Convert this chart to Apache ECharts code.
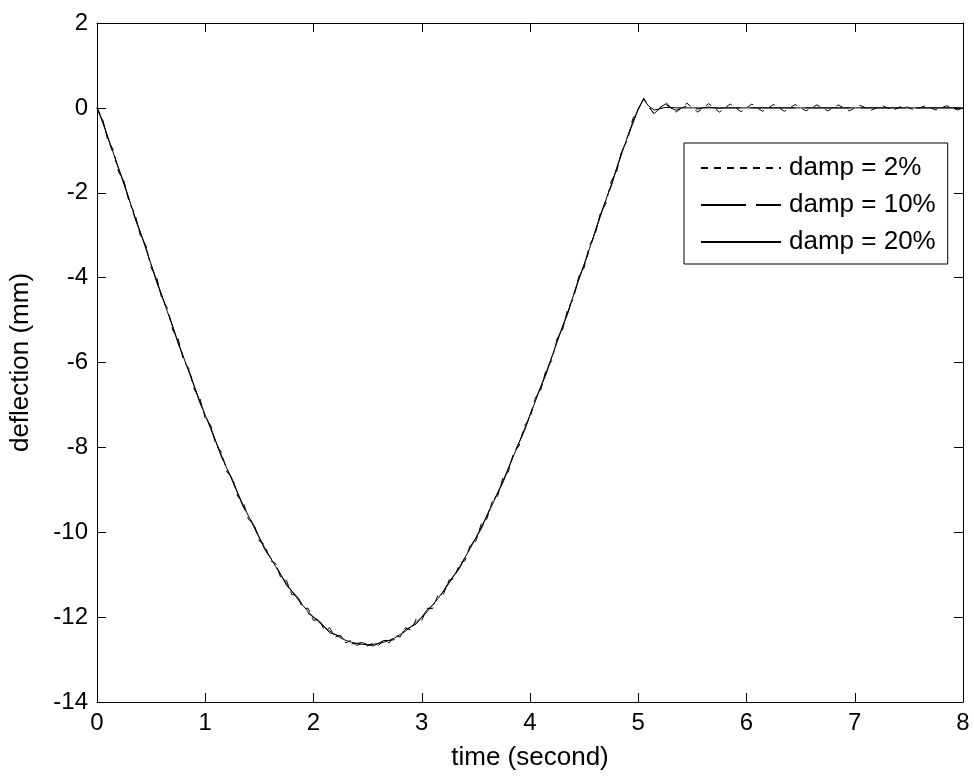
<!DOCTYPE html>
<html><head><meta charset="utf-8">
<style>html,body{margin:0;padding:0;background:#fff}#c{width:974px;height:776px}</style>
<script src="https://cdn.jsdelivr.net/npm/echarts@6/dist/echarts.min.js"></script>
</head><body><div id="c"></div>
<script>
const times = [
0,0.05,0.1,0.15,0.2,0.25,0.3,0.35,0.4,0.45,
0.5,0.55,0.6,0.65,0.7,0.75,0.8,0.85,0.9,0.95,
1,1.05,1.1,1.15,1.2,1.25,1.3,1.35,1.4,1.45,
1.5,1.55,1.6,1.65,1.7,1.75,1.8,1.85,1.9,1.95,
2,2.05,2.1,2.15,2.2,2.25,2.3,2.35,2.4,2.45,
2.5,2.55,2.6,2.65,2.7,2.75,2.8,2.85,2.9,2.95,
3,3.05,3.1,3.15,3.2,3.25,3.3,3.35,3.4,3.45,
3.5,3.55,3.6,3.65,3.7,3.75,3.8,3.85,3.9,3.95,
4,4.05,4.1,4.15,4.2,4.25,4.3,4.35,4.4,4.45,
4.5,4.55,4.6,4.65,4.7,4.75,4.8,4.85,4.9,4.95,
5,5.05,5.1,5.15,5.2,5.25,5.3,5.35,5.4,5.45,
5.5,5.55,5.6,5.65,5.7,5.75,5.8,5.85,5.9,5.95,
6,6.05,6.1,6.15,6.2,6.25,6.3,6.35,6.4,6.45,
6.5,6.55,6.6,6.65,6.7,6.75,6.8,6.85,6.9,6.95,
7,7.05,7.1,7.15,7.2,7.25,7.3,7.35,7.4,7.45,
7.5,7.55,7.6,7.65,7.7,7.75,7.8,7.85,7.9,7.95,
8];

const damp2 = [
0,-0.25,-0.77,-0.98,-1.51,-1.73,-2.26,-2.48,-3.01,-3.23,
-3.77,-3.98,-4.51,-4.72,-5.24,-5.44,-5.96,-6.15,-6.65,-6.83,
-7.32,-7.48,-7.96,-8.11,-8.58,-8.71,-9.16,-9.28,-9.70,-9.80,
-10.21,-10.29,-10.67,-10.73,-11.09,-11.13,-11.47,-11.48,-11.80,-11.79,
-12.08,-12.04,-12.31,-12.25,-12.47,-12.43,-12.61,-12.54,-12.67,-12.61,
-12.68,-12.61,-12.67,-12.54,-12.61,-12.43,-12.47,-12.25,-12.31,-12.04,
-12.08,-11.79,-11.80,-11.48,-11.47,-11.13,-11.09,-10.73,-10.67,-10.29,
-10.21,-9.80,-9.70,-9.28,-9.16,-8.71,-8.58,-8.11,-7.96,-7.48,
-7.32,-6.83,-6.65,-6.15,-5.96,-5.44,-5.24,-4.72,-4.51,-3.98,
-3.77,-3.23,-3.01,-2.48,-2.26,-1.73,-1.51,-0.98,-0.77,-0.25,
-0.04,0.23,0.02,-0.16,0.00,0.14,0.01,-0.10,0.00,0.11,
0.00,-0.10,0.00,0.10,0.00,-0.10,0.00,0.09,0.00,-0.09,
0.00,0.09,0.00,-0.08,0.00,0.08,0.00,-0.08,0.00,0.08,
0.00,-0.07,0.00,0.07,0.00,-0.07,0.00,0.07,0.00,-0.07,
0.00,0.06,0.00,-0.06,0.00,0.06,0.00,-0.06,0.00,0.06,
0.00,-0.05,0.00,0.05,0.00,-0.05,0.00,0.05,0.00,-0.05,
0.00];

const damp10 = [
0,-0.29,-0.69,-1.10,-1.43,-1.77,-2.18,-2.60,-2.93,-3.27,
-3.69,-4.10,-4.43,-4.76,-5.16,-5.56,-5.88,-6.19,-6.57,-6.95,
-7.24,-7.52,-7.88,-8.23,-8.50,-8.75,-9.08,-9.40,-9.62,-9.84,
-10.13,-10.41,-10.59,-10.77,-11.01,-11.25,-11.39,-11.52,-11.72,-11.91,
-12.00,-12.08,-12.23,-12.37,-12.41,-12.45,-12.55,-12.63,-12.62,-12.60,
-12.65,-12.68,-12.62,-12.55,-12.55,-12.53,-12.41,-12.29,-12.23,-12.16,
-12.00,-11.83,-11.72,-11.60,-11.39,-11.17,-11.01,-10.85,-10.59,-10.33,
-10.13,-9.92,-9.62,-9.32,-9.08,-8.83,-8.50,-8.15,-7.88,-7.60,
-7.24,-6.87,-6.57,-6.27,-5.88,-5.48,-5.16,-4.84,-4.43,-4.02,
-3.69,-3.35,-2.93,-2.52,-2.18,-1.85,-1.43,-1.02,-0.69,-0.37,
-0.03,0.22,0.00,-0.13,0.00,0.09,0.00,-0.06,0.00,0.04,
0.00,-0.03,0.00,0.02,0.00,-0.01,0,0,0,0,
0,0,0,0,0,0,0,0,0,0,
0,0,0,0,0,0,0,0,0,0,
0,0,0,0,0,0,0,0,0,0,
0,0,0,0,0,0,0,0,0,0,
0];

const damp20 = [
0,-0.33,-0.69,-1.06,-1.43,-1.81,-2.18,-2.56,-2.93,-3.31,
-3.69,-4.06,-4.43,-4.80,-5.16,-5.52,-5.88,-6.23,-6.57,-6.91,
-7.24,-7.56,-7.88,-8.19,-8.50,-8.79,-9.08,-9.36,-9.62,-9.88,
-10.13,-10.37,-10.59,-10.81,-11.01,-11.21,-11.39,-11.56,-11.72,-11.87,
-12.00,-12.12,-12.23,-12.33,-12.41,-12.49,-12.55,-12.59,-12.62,-12.64,
-12.65,-12.64,-12.62,-12.59,-12.55,-12.49,-12.41,-12.33,-12.23,-12.12,
-12.00,-11.87,-11.72,-11.56,-11.39,-11.21,-11.01,-10.81,-10.59,-10.37,
-10.13,-9.88,-9.62,-9.36,-9.08,-8.79,-8.50,-8.19,-7.88,-7.56,
-7.24,-6.91,-6.57,-6.23,-5.88,-5.52,-5.16,-4.80,-4.43,-4.06,
-3.69,-3.31,-2.93,-2.56,-2.18,-1.81,-1.43,-1.06,-0.69,-0.33,
-0.02,0.20,0.03,-0.05,-0.02,0.01,0.01,0,0,0,
0,0,0,0,0,0,0,0,0,0,
0,0,0,0,0,0,0,0,0,0,
0,0,0,0,0,0,0,0,0,0,
0,0,0,0,0,0,0,0,0,0,
0,0,0,0,0,0,0,0,0,0,
0];

const seriesNames = ['damp = 2%', 'damp = 10%', 'damp = 20%'];
const xTitle = 'time (second)';
const yTitle = 'deflection (mm)';

const FONT = '"Liberation Sans", Arial, Helvetica, sans-serif';
const chart = echarts.init(document.getElementById('c'));
const pair = arr => times.map((t, i) => [t, arr[i]]);

const axisCommon = {
  axisLine: { show: true, onZero: false, lineStyle: { color: '#000', width: 1 } },
  axisTick: { show: true, inside: true, length: 9, lineStyle: { color: '#000', width: 1 } },
  splitLine: { show: false }
};

const option = {
  animation: false,
  backgroundColor: '#fff',
  grid: { left: 96, right: 11, top: 23, bottom: 69, containLabel: false },
  xAxis: [
    Object.assign({
      type: 'value', min: 0, max: 8, interval: 1, position: 'bottom',
      name: xTitle, nameLocation: 'middle', nameGap: 43,
      nameTextStyle: { color: '#000', fontSize: 26, fontFamily: FONT },
      axisLabel: { color: '#000', fontSize: 24, fontFamily: FONT, margin: 9 }
    }, axisCommon),
    Object.assign({
      type: 'value', min: 0, max: 8, interval: 1, position: 'top',
      axisLabel: { show: false }
    }, axisCommon)
  ],
  yAxis: [
    Object.assign({
      type: 'value', min: -14, max: 2, interval: 2, position: 'left',
      name: yTitle, nameLocation: 'middle', nameGap: 63, nameRotate: 90,
      nameTextStyle: { color: '#000', fontSize: 26, fontFamily: FONT },
      axisLabel: { color: '#000', fontSize: 24, fontFamily: FONT, margin: 9 }
    }, axisCommon),
    Object.assign({
      type: 'value', min: -14, max: 2, interval: 2, position: 'right',
      axisLabel: { show: false }
    }, axisCommon)
  ],
  legend: {
    orient: 'vertical', left: 684, top: 143,
    backgroundColor: '#fff', borderColor: '#000', borderWidth: 1, borderRadius: 0,
    padding: [12, 12, 9, 16],
    itemWidth: 80, itemHeight: 26, itemGap: 11,
    itemStyle: { opacity: 0 },
    textStyle: { color: '#000', fontSize: 26, fontFamily: FONT, padding: [0, 0, 0, 3] },
    data: seriesNames
  },
  series: [
    { name: seriesNames[0], type: 'line', data: pair(damp2), showSymbol: false, symbol: 'none',
      lineStyle: { color: '#000', width: 1, type: [7, 6] }, itemStyle: { color: '#000' }, z: 2 },
    { name: seriesNames[1], type: 'line', data: pair(damp10), showSymbol: false, symbol: 'none',
      lineStyle: { color: '#000', width: 1, type: [45, 10] }, itemStyle: { color: '#000' }, z: 3 },
    { name: seriesNames[2], type: 'line', data: pair(damp20), showSymbol: false, symbol: 'none',
      lineStyle: { color: '#000', width: 1 }, itemStyle: { color: '#000' }, z: 4 }
  ]
};
chart.setOption(option);
</script>
</body></html>
